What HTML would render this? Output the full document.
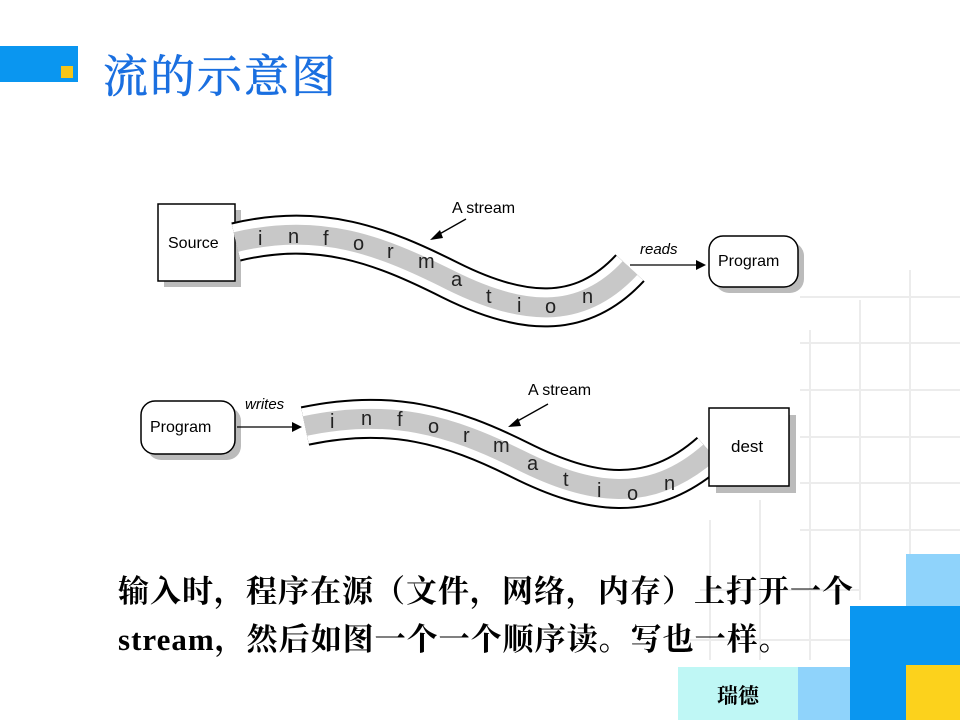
<!DOCTYPE html>
<html><head><meta charset="utf-8"><style>
body{margin:0;width:960px;height:720px;overflow:hidden;background:#fff;position:relative;font-family:"Liberation Sans",sans-serif}
.a{position:absolute}
.t{font-family:"Liberation Serif","Noto Serif CJK SC",serif;color:#000;font-size:31px;font-weight:bold;letter-spacing:1px;white-space:nowrap}
</style></head><body>
<svg class="a" style="left:0;top:0" width="960" height="720">
<g stroke="#ececec" stroke-width="2">
<line x1="910" y1="270" x2="910" y2="560"/><line x1="860" y1="300" x2="860" y2="600"/><line x1="810" y1="330" x2="810" y2="660"/>
<line x1="760" y1="500" x2="760" y2="660"/><line x1="710" y1="520" x2="710" y2="660"/>
<line x1="800" y1="297" x2="960" y2="297"/><line x1="800" y1="343" x2="960" y2="343"/><line x1="800" y1="390" x2="960" y2="390"/>
<line x1="800" y1="437" x2="960" y2="437"/><line x1="800" y1="483" x2="960" y2="483"/><line x1="800" y1="530" x2="960" y2="530"/>
<line x1="700" y1="590" x2="860" y2="590"/><line x1="690" y1="640" x2="860" y2="640"/>
</g>
<rect x="0" y="46" width="78" height="36" fill="#0a96f0"/>
<rect x="61" y="66" width="12" height="12" fill="#f5c518"/>
<rect x="906" y="554" width="54" height="52" fill="#8fd3fb"/>
<rect x="850" y="606" width="110" height="114" fill="#0a96f0"/>
<rect x="906" y="665" width="54" height="55" fill="#fcd21c"/>
<rect x="798" y="667" width="52" height="53" fill="#8fd3fb"/>
<rect x="678" y="667" width="120" height="53" fill="#bff7f5"/>
<text x="717" y="703" font-family="Liberation Serif,Noto Serif CJK SC,serif" font-size="21" font-weight="bold">瑞德</text>

<!-- Diagram 1 -->
<rect x="164" y="210" width="77" height="77" fill="#bbb"/>
<rect x="158" y="204" width="77" height="77" fill="#fff" stroke="#000" stroke-width="1.5"/>
<text x="168" y="248" font-size="16">Source</text>
<path d="M236,242 C320,222 380,245 450,280 S580,322 630,268" fill="none" stroke="#000" stroke-width="40"/>
<path d="M236,242 C320,222 380,245 450,280 S580,322 630,268" fill="none" stroke="#fff" stroke-width="36"/>
<path d="M236,242 C320,222 380,245 450,280 S580,322 630,268" fill="none" stroke="#c8c8c8" stroke-width="20"/>
<g font-size="20" fill="#222">
<text x="258" y="245">i</text><text x="288" y="243">n</text><text x="323" y="245">f</text><text x="353" y="250">o</text><text x="387" y="258">r</text><text x="418" y="268">m</text><text x="451" y="286">a</text><text x="486" y="303">t</text><text x="517" y="312">i</text><text x="545" y="313">o</text><text x="582" y="303">n</text>
</g>
<text x="452" y="213" font-size="16">A stream</text>
<line x1="466" y1="219" x2="436" y2="236" stroke="#000" stroke-width="1.3"/>
<polygon points="430,240 440,230 443,238" fill="#000"/>
<text x="640" y="254" font-size="15" font-style="italic">reads</text>
<line x1="630" y1="265" x2="698" y2="265" stroke="#000" stroke-width="1.3"/>
<polygon points="706,265 696,260 696,270" fill="#000"/>
<rect x="715" y="242" width="89" height="51" rx="14" fill="#bbb"/>
<rect x="709" y="236" width="89" height="51" rx="14" fill="#fff" stroke="#000" stroke-width="1.5"/>
<text x="718" y="266" font-size="16">Program</text>

<!-- Diagram 2 -->
<rect x="147" y="407" width="94" height="53" rx="14" fill="#bbb"/>
<rect x="141" y="401" width="94" height="53" rx="14" fill="#fff" stroke="#000" stroke-width="1.5"/>
<text x="150" y="432" font-size="16">Program</text>
<text x="245" y="409" font-size="15" font-style="italic">writes</text>
<line x1="237" y1="427" x2="294" y2="427" stroke="#000" stroke-width="1.3"/>
<polygon points="302,427 292,422 292,432" fill="#000"/>
<path d="M305,426 C390,408 450,425 520,460 S650,505 710,452" fill="none" stroke="#000" stroke-width="40"/>
<path d="M305,426 C390,408 450,425 520,460 S650,505 710,452" fill="none" stroke="#fff" stroke-width="36"/>
<path d="M305,426 C390,408 450,425 520,460 S650,505 710,452" fill="none" stroke="#c8c8c8" stroke-width="20"/>
<g font-size="20" fill="#222">
<text x="330" y="428">i</text><text x="361" y="425">n</text><text x="397" y="426">f</text><text x="428" y="433">o</text><text x="463" y="442">r</text><text x="493" y="452">m</text><text x="527" y="470">a</text><text x="563" y="486">t</text><text x="597" y="497">i</text><text x="627" y="500">o</text><text x="664" y="490">n</text>
</g>
<text x="528" y="395" font-size="16">A stream</text>
<line x1="548" y1="404" x2="514" y2="423" stroke="#000" stroke-width="1.3"/>
<polygon points="508,427 518,418 521,426" fill="#000"/>
<rect x="716" y="415" width="80" height="78" fill="#bbb"/>
<rect x="709" y="408" width="80" height="78" fill="#fff" stroke="#000" stroke-width="1.5"/>
<text x="731" y="452" font-size="17">dest</text>
</svg>
<div class="a" style="left:103px;top:40px;font-family:'Liberation Serif','Noto Serif CJK SC',serif;font-size:45px;color:#1a6fe0;letter-spacing:2px;white-space:nowrap;-webkit-text-stroke:0.6px #1a6fe0">流的示意图</div>
<div class="a t" style="left:118px;top:566px">输入时，程序在源（文件，网络，内存）上打开一个</div>
<div class="a t" style="left:118px;top:614px">stream，然后如图一个一个顺序读。写也一样。</div>
</body></html>
